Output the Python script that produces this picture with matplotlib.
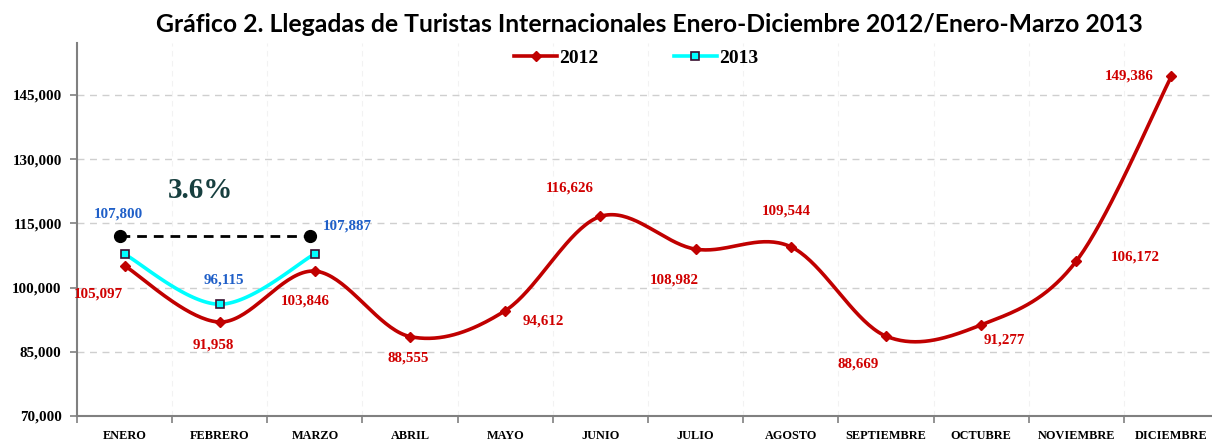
import numpy as np
import matplotlib
matplotlib.use("Agg")
import matplotlib.pyplot as plt
from matplotlib.lines import Line2D

# ---------------- data ----------------
months = ["ENERO", "FEBRERO", "MARZO", "ABRIL", "MAYO", "JUNIO", "JULIO",
          "AGOSTO", "SEPTIEMBRE", "OCTUBRE", "NOVIEMBRE", "DICIEMBRE"]
arrivals_2012 = [105097, 91958, 103846, 88555, 94612, 116626, 108982,
                 109544, 88669, 91277, 106172, 149386]
arrivals_2013 = [107800, 96115, 107887]
compare_x = [-0.05, 1.95]
compare_y = [112000, 112000]
growth_label = "3.6%"
yticks = [70000, 85000, 100000, 115000, 130000, 145000]
title = "Gráfico 2. Llegadas de Turistas Internacionales Enero-Diciembre 2012/Enero-Marzo 2013"

# label offsets (pixels)
off_2012 = [(-26, -28), (-6, -23), (-10, -30), (-2, -21), (38, -10), (-31, 28),
            (-21, -31), (-4, 36), (-28, -28), (23, -15), (59, 4), (-42, 0)]
off_2013 = [(-6, 40), (4, 24), (32, 28)]

RED = "#c00000"
RED_TXT = "#d00000"
CYAN = "#00ffff"
BLUE_TXT = "#1f5fc8"
SERIF = "Liberation Serif"


def smooth(y, n=40):
    """Excel-style smoothed line (Catmull-Rom Bezier)."""
    x = np.arange(len(y), dtype=float)
    y = np.asarray(y, dtype=float)
    P = np.column_stack([x, y])
    out = []
    for i in range(len(P) - 1):
        p0 = P[i - 1] if i > 0 else P[i]
        p1 = P[i]
        p2 = P[i + 1]
        p3 = P[i + 2] if i + 2 < len(P) else P[i + 1]
        c1 = p1 + (p2 - p0) / 6.0
        c2 = p2 - (p3 - p1) / 6.0
        t = np.linspace(0, 1, n)[:, None]
        seg = ((1 - t) ** 3) * p1 + 3 * ((1 - t) ** 2) * t * c1 + 3 * (1 - t) * t ** 2 * c2 + t ** 3 * p2
        out.append(seg if i == 0 else seg[1:])
    s = np.vstack(out)
    return s[:, 0], s[:, 1]


fig = plt.figure(figsize=(12.12, 4.4), dpi=100)
W, H = 1212, 440
ax = fig.add_axes([77 / W, 1 - 416 / H, 1142 / W, (416 - 43) / H])
ax.set_xlim(-0.5, 11.5)
ax.set_ylim(70000, 157150)

x12 = np.arange(len(arrivals_2012))
x13 = np.arange(len(arrivals_2013))

sx, sy = smooth(arrivals_2012)
ax.plot(sx, sy, color=RED, lw=2.6, solid_capstyle="round", zorder=3)
ax.plot(x12, arrivals_2012, ls="none", marker="D", ms=5.5, color=RED, zorder=4)

sx, sy = smooth(arrivals_2013)
ax.plot(sx, sy, color=CYAN, lw=2.6, zorder=3)
ax.plot(x13, arrivals_2013, ls="none", marker="s", ms=5.5, mfc=CYAN,
        mec="#3a1030", mew=1.2, zorder=5)

ax.plot(compare_x, compare_y, color="black", ls=(0, (3.5, 2.5)), lw=2.0, zorder=3)
ax.plot(compare_x, compare_y, ls="none", marker="o", ms=8.5, color="black", zorder=4)
ax.text(0.8, 122800, growth_label, family=SERIF, fontsize=21, color="#173f3f",
        ha="center", va="center", fontweight="bold")

for xi, v, (dx, dy) in zip(x12, arrivals_2012, off_2012):
    ax.annotate(f"{v:,}", (xi, v), xytext=(dx * 0.72, dy * 0.72), textcoords="offset points",
                ha="center", va="center", family=SERIF, fontweight="bold",
                fontsize=10.8, color=RED_TXT, zorder=6)
for xi, v, (dx, dy) in zip(x13, arrivals_2013, off_2013):
    ax.annotate(f"{v:,}", (xi, v), xytext=(dx * 0.72, dy * 0.72), textcoords="offset points",
                ha="center", va="center", family=SERIF, fontweight="bold",
                fontsize=10.8, color=BLUE_TXT, zorder=6)

# axes styling
for s in ["top", "right"]:
    ax.spines[s].set_visible(False)
for s in ["left", "bottom"]:
    ax.spines[s].set_color("#808080")
    ax.spines[s].set_linewidth(1.5)

ax.set_yticks(yticks)
ax.set_yticklabels([f"{t:,}" for t in yticks], family=SERIF, fontweight="bold", fontsize=10.8)
ax.tick_params(axis="y", length=5, width=1.2, color="#808080", pad=6)
ax.yaxis.grid(True, ls=(0, (5, 4)), color="#cfcfcf", lw=1.0)

ax.set_xticks(np.arange(-0.5, 12, 1.0))
ax.set_xticklabels([])
ax.set_xticks(x12, minor=True)
ax.set_xticklabels(months, minor=True, family=SERIF, fontweight="bold", fontsize=8.8)
ax.tick_params(axis="x", which="major", length=5, width=1.2, color="#808080")
ax.tick_params(axis="x", which="minor", length=0, pad=10)
ax.xaxis.grid(True, which="major", ls=(0, (5, 4)), color="#f2f2f2", lw=0.8)
ax.set_axisbelow(True)

handles = [Line2D([], [], color=RED, lw=2.6, marker="D", ms=5.5),
           Line2D([], [], color=CYAN, lw=2.6, marker="s", ms=5.5, mfc=CYAN, mec="#3a1030", mew=1.2)]
fig.legend(handles, ["2012", "2013"], loc="center", bbox_to_anchor=(636 / W, 1 - 58 / H),
           ncol=2, frameon=False, handlelength=2.2, handletextpad=0.1, columnspacing=3.9,
           prop=dict(family=SERIF, weight="bold", size=14))

fig.text(649 / W, 1 - 25 / H, title, ha="center", va="center", family="Lato",
         fontweight="bold", fontsize=17.8)

fig.savefig("out.png", dpi=100)
